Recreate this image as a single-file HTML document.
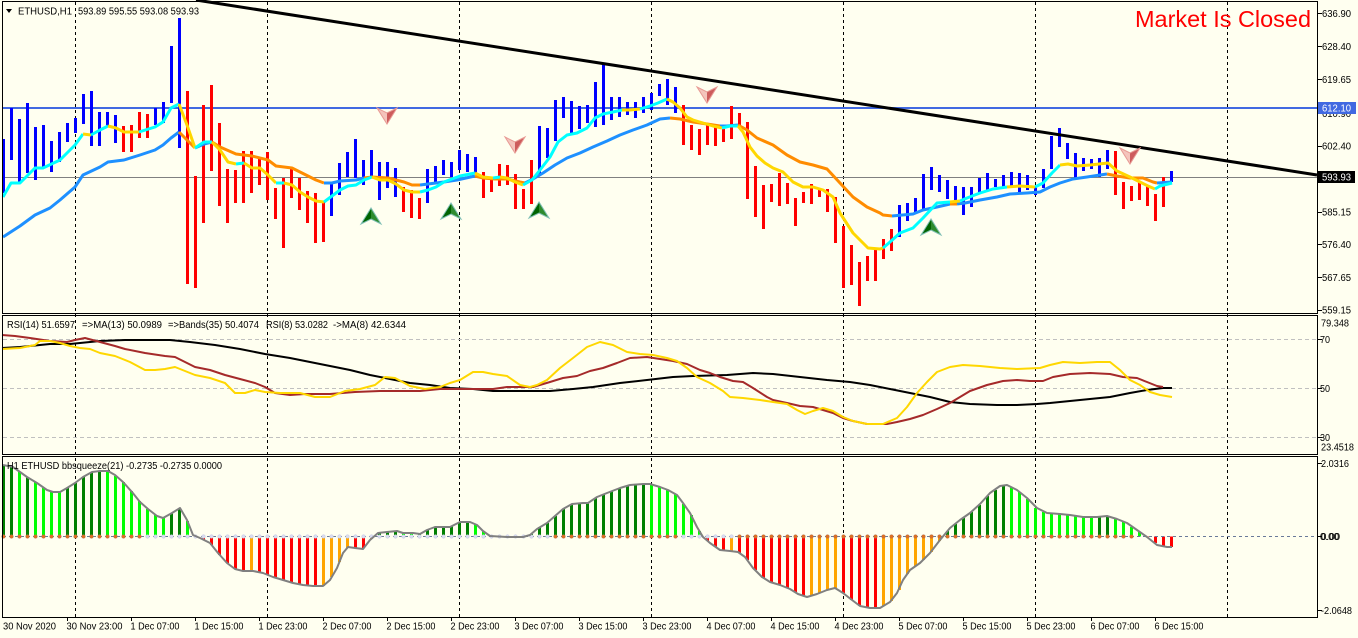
<!DOCTYPE html>
<html><head><meta charset="utf-8">
<style>
html,body{margin:0;padding:0;background:#FFFFF0;}
svg{display:block;}
text{font-family:"Liberation Sans","DejaVu Sans",sans-serif;font-size:10px;fill:#000;}
</style></head><body>
<svg width="1358" height="638" viewBox="0 0 1358 638" xmlns="http://www.w3.org/2000/svg">
<rect width="1358" height="638" fill="#FFFFF0"/>

<!-- vertical grid -->
<path d="M75.5 2V617M267.5 2V617M459.5 2V617M651.5 2V617M843.5 2V617M1035.5 2V617M1227.5 2V617" stroke="#000" stroke-width="1" stroke-dasharray="3 3" fill="none"/>
<!-- RSI levels -->
<path d="M3 339.5H1317M3 388.5H1317M3 437.5H1317" stroke="#C0C0C0" stroke-width="1" stroke-dasharray="4 3" fill="none"/>

<!-- histogram -->
<g stroke-width="3" fill="none">
<path stroke="#008000" d="M3.5 536.5V465M11.5 536.5V467M27.5 536.5V477M67.5 536.5V488M75.5 536.5V483M83.5 536.5V477M91.5 536.5V472M99.5 536.5V471M171.5 536.5V513M179.5 536.5V508M379.5 536.5V533M387.5 536.5V532M395.5 536.5V531M427.5 536.5V530M435.5 536.5V527M443.5 536.5V527M451.5 536.5V526M459.5 536.5V522M467.5 536.5V522M531.5 536.5V534M539.5 536.5V527M547.5 536.5V523M555.5 536.5V516M563.5 536.5V509M571.5 536.5V504M579.5 536.5V503M587.5 536.5V503M595.5 536.5V498M603.5 536.5V494M611.5 536.5V491M619.5 536.5V488M627.5 536.5V486M635.5 536.5V485M643.5 536.5V484M947.5 536.5V531M955.5 536.5V524M963.5 536.5V518M971.5 536.5V512M979.5 536.5V505M987.5 536.5V496M995.5 536.5V490M1003.5 536.5V486M1099.5 536.5V517M1107.5 536.5V516"/>
<path stroke="#00FF00" d="M19.5 536.5V472M35.5 536.5V482M43.5 536.5V488M51.5 536.5V492M59.5 536.5V492M107.5 536.5V471M115.5 536.5V476M123.5 536.5V482M131.5 536.5V491M139.5 536.5V501M147.5 536.5V509M155.5 536.5V515M163.5 536.5V518M187.5 536.5V521M403.5 536.5V533M411.5 536.5V533M419.5 536.5V534M475.5 536.5V524M483.5 536.5V531M491.5 536.5V536M651.5 536.5V485M659.5 536.5V487M667.5 536.5V490M675.5 536.5V494M683.5 536.5V504M691.5 536.5V515M699.5 536.5V531M1011.5 536.5V487M1019.5 536.5V492M1027.5 536.5V499M1035.5 536.5V508M1043.5 536.5V512M1051.5 536.5V513M1059.5 536.5V514M1067.5 536.5V515M1075.5 536.5V516M1083.5 536.5V517M1091.5 536.5V517M1115.5 536.5V519M1123.5 536.5V522M1131.5 536.5V527M1139.5 536.5V532"/>
<path stroke="#FF0000" d="M203.5 536.5V540M211.5 536.5V545M219.5 536.5V555M227.5 536.5V563M235.5 536.5V569M243.5 536.5V571M259.5 536.5V572M267.5 536.5V575M275.5 536.5V578M283.5 536.5V580M291.5 536.5V583M299.5 536.5V584M307.5 536.5V586M315.5 536.5V586M355.5 536.5V548M363.5 536.5V548M499.5 536.5V537M507.5 536.5V537M515.5 536.5V537M707.5 536.5V541M715.5 536.5V547M723.5 536.5V550M739.5 536.5V553M747.5 536.5V560M755.5 536.5V570M763.5 536.5V578M771.5 536.5V583M779.5 536.5V585M787.5 536.5V588M795.5 536.5V592M803.5 536.5V596M843.5 536.5V593M851.5 536.5V600M859.5 536.5V606M867.5 536.5V607M875.5 536.5V608M1147.5 536.5V537M1155.5 536.5V543M1163.5 536.5V546M1171.5 536.5V547"/>
<path stroke="#FFA500" d="M251.5 536.5V571M323.5 536.5V586M331.5 536.5V577M339.5 536.5V562M347.5 536.5V548M371.5 536.5V539M523.5 536.5V537M731.5 536.5V551M811.5 536.5V596M819.5 536.5V593M827.5 536.5V590M835.5 536.5V588M883.5 536.5V606M891.5 536.5V601M899.5 536.5V590M907.5 536.5V574M915.5 536.5V566M923.5 536.5V560M931.5 536.5V552M939.5 536.5V541"/>
</g>
<!-- zero line -->
<path d="M3 536.5H1317" stroke="#6A7A9A" stroke-width="1" stroke-dasharray="3 3" fill="none"/>
<!-- squeeze dots -->
<path fill="#E07020" stroke="#B07050" stroke-width="0.5" d="M1.7 536.5
a1.8 1.8 0 1 0 3.6 0a1.8 1.8 0 1 0-3.6 0m8 0a1.8 1.8 0 1 0 3.6 0a1.8 1.8 0 1 0-3.6 0m8 0a1.8 1.8 0 1 0 3.6 0a1.8 1.8 0 1 0-3.6 0m8 0a1.8 1.8 0 1 0 3.6 0a1.8 1.8 0 1 0-3.6 0m8 0a1.8 1.8 0 1 0 3.6 0a1.8 1.8 0 1 0-3.6 0m8 0
a1.8 1.8 0 1 0 3.6 0a1.8 1.8 0 1 0-3.6 0m8 0a1.8 1.8 0 1 0 3.6 0a1.8 1.8 0 1 0-3.6 0m8 0a1.8 1.8 0 1 0 3.6 0a1.8 1.8 0 1 0-3.6 0m8 0a1.8 1.8 0 1 0 3.6 0a1.8 1.8 0 1 0-3.6 0m8 0a1.8 1.8 0 1 0 3.6 0a1.8 1.8 0 1 0-3.6 0m8 0
a1.8 1.8 0 1 0 3.6 0a1.8 1.8 0 1 0-3.6 0m8 0a1.8 1.8 0 1 0 3.6 0a1.8 1.8 0 1 0-3.6 0m8 0a1.8 1.8 0 1 0 3.6 0a1.8 1.8 0 1 0-3.6 0m8 0a1.8 1.8 0 1 0 3.6 0a1.8 1.8 0 1 0-3.6 0m8 0a1.8 1.8 0 1 0 3.6 0a1.8 1.8 0 1 0-3.6 0m8 0
a1.8 1.8 0 1 0 3.6 0a1.8 1.8 0 1 0-3.6 0m8 0a1.8 1.8 0 1 0 3.6 0a1.8 1.8 0 1 0-3.6 0m8 0a1.8 1.8 0 1 0 3.6 0a1.8 1.8 0 1 0-3.6 0m8 0
M553.7 536.5
a1.8 1.8 0 1 0 3.6 0a1.8 1.8 0 1 0-3.6 0m8 0a1.8 1.8 0 1 0 3.6 0a1.8 1.8 0 1 0-3.6 0m8 0a1.8 1.8 0 1 0 3.6 0a1.8 1.8 0 1 0-3.6 0m8 0a1.8 1.8 0 1 0 3.6 0a1.8 1.8 0 1 0-3.6 0m8 0a1.8 1.8 0 1 0 3.6 0a1.8 1.8 0 1 0-3.6 0m8 0
a1.8 1.8 0 1 0 3.6 0a1.8 1.8 0 1 0-3.6 0m8 0a1.8 1.8 0 1 0 3.6 0a1.8 1.8 0 1 0-3.6 0m8 0a1.8 1.8 0 1 0 3.6 0a1.8 1.8 0 1 0-3.6 0m8 0a1.8 1.8 0 1 0 3.6 0a1.8 1.8 0 1 0-3.6 0m8 0a1.8 1.8 0 1 0 3.6 0a1.8 1.8 0 1 0-3.6 0m8 0
a1.8 1.8 0 1 0 3.6 0a1.8 1.8 0 1 0-3.6 0m8 0a1.8 1.8 0 1 0 3.6 0a1.8 1.8 0 1 0-3.6 0m8 0a1.8 1.8 0 1 0 3.6 0a1.8 1.8 0 1 0-3.6 0m8 0a1.8 1.8 0 1 0 3.6 0a1.8 1.8 0 1 0-3.6 0m8 0a1.8 1.8 0 1 0 3.6 0a1.8 1.8 0 1 0-3.6 0m8 0
a1.8 1.8 0 1 0 3.6 0a1.8 1.8 0 1 0-3.6 0m8 0
M737.7 536.5
a1.8 1.8 0 1 0 3.6 0a1.8 1.8 0 1 0-3.6 0m8 0a1.8 1.8 0 1 0 3.6 0a1.8 1.8 0 1 0-3.6 0m8 0a1.8 1.8 0 1 0 3.6 0a1.8 1.8 0 1 0-3.6 0m8 0a1.8 1.8 0 1 0 3.6 0a1.8 1.8 0 1 0-3.6 0m8 0a1.8 1.8 0 1 0 3.6 0a1.8 1.8 0 1 0-3.6 0m8 0
a1.8 1.8 0 1 0 3.6 0a1.8 1.8 0 1 0-3.6 0m8 0a1.8 1.8 0 1 0 3.6 0a1.8 1.8 0 1 0-3.6 0m8 0a1.8 1.8 0 1 0 3.6 0a1.8 1.8 0 1 0-3.6 0m8 0a1.8 1.8 0 1 0 3.6 0a1.8 1.8 0 1 0-3.6 0m8 0a1.8 1.8 0 1 0 3.6 0a1.8 1.8 0 1 0-3.6 0m8 0
a1.8 1.8 0 1 0 3.6 0a1.8 1.8 0 1 0-3.6 0m8 0a1.8 1.8 0 1 0 3.6 0a1.8 1.8 0 1 0-3.6 0m8 0a1.8 1.8 0 1 0 3.6 0a1.8 1.8 0 1 0-3.6 0m8 0a1.8 1.8 0 1 0 3.6 0a1.8 1.8 0 1 0-3.6 0m8 0a1.8 1.8 0 1 0 3.6 0a1.8 1.8 0 1 0-3.6 0m8 0
a1.8 1.8 0 1 0 3.6 0a1.8 1.8 0 1 0-3.6 0m8 0a1.8 1.8 0 1 0 3.6 0a1.8 1.8 0 1 0-3.6 0m8 0a1.8 1.8 0 1 0 3.6 0a1.8 1.8 0 1 0-3.6 0m8 0a1.8 1.8 0 1 0 3.6 0a1.8 1.8 0 1 0-3.6 0m8 0a1.8 1.8 0 1 0 3.6 0a1.8 1.8 0 1 0-3.6 0m8 0
a1.8 1.8 0 1 0 3.6 0a1.8 1.8 0 1 0-3.6 0m8 0a1.8 1.8 0 1 0 3.6 0a1.8 1.8 0 1 0-3.6 0m8 0a1.8 1.8 0 1 0 3.6 0a1.8 1.8 0 1 0-3.6 0m8 0a1.8 1.8 0 1 0 3.6 0a1.8 1.8 0 1 0-3.6 0m8 0a1.8 1.8 0 1 0 3.6 0a1.8 1.8 0 1 0-3.6 0m8 0
a1.8 1.8 0 1 0 3.6 0a1.8 1.8 0 1 0-3.6 0m8 0a1.8 1.8 0 1 0 3.6 0a1.8 1.8 0 1 0-3.6 0m8 0a1.8 1.8 0 1 0 3.6 0a1.8 1.8 0 1 0-3.6 0m8 0a1.8 1.8 0 1 0 3.6 0a1.8 1.8 0 1 0-3.6 0m8 0a1.8 1.8 0 1 0 3.6 0a1.8 1.8 0 1 0-3.6 0m8 0
a1.8 1.8 0 1 0 3.6 0a1.8 1.8 0 1 0-3.6 0m8 0a1.8 1.8 0 1 0 3.6 0a1.8 1.8 0 1 0-3.6 0m8 0a1.8 1.8 0 1 0 3.6 0a1.8 1.8 0 1 0-3.6 0m8 0a1.8 1.8 0 1 0 3.6 0a1.8 1.8 0 1 0-3.6 0m8 0a1.8 1.8 0 1 0 3.6 0a1.8 1.8 0 1 0-3.6 0m8 0
a1.8 1.8 0 1 0 3.6 0a1.8 1.8 0 1 0-3.6 0m8 0a1.8 1.8 0 1 0 3.6 0a1.8 1.8 0 1 0-3.6 0m8 0a1.8 1.8 0 1 0 3.6 0a1.8 1.8 0 1 0-3.6 0m8 0a1.8 1.8 0 1 0 3.6 0a1.8 1.8 0 1 0-3.6 0m8 0a1.8 1.8 0 1 0 3.6 0a1.8 1.8 0 1 0-3.6 0m8 0
a1.8 1.8 0 1 0 3.6 0a1.8 1.8 0 1 0-3.6 0m8 0a1.8 1.8 0 1 0 3.6 0a1.8 1.8 0 1 0-3.6 0m8 0a1.8 1.8 0 1 0 3.6 0a1.8 1.8 0 1 0-3.6 0m8 0a1.8 1.8 0 1 0 3.6 0a1.8 1.8 0 1 0-3.6 0m8 0a1.8 1.8 0 1 0 3.6 0a1.8 1.8 0 1 0-3.6 0m8 0
a1.8 1.8 0 1 0 3.6 0a1.8 1.8 0 1 0-3.6 0m8 0a1.8 1.8 0 1 0 3.6 0a1.8 1.8 0 1 0-3.6 0m8 0a1.8 1.8 0 1 0 3.6 0a1.8 1.8 0 1 0-3.6 0m8 0a1.8 1.8 0 1 0 3.6 0a1.8 1.8 0 1 0-3.6 0m8 0a1.8 1.8 0 1 0 3.6 0a1.8 1.8 0 1 0-3.6 0m8 0"/>
<path fill="#DADDF0" stroke="#C4C8E0" stroke-width="0.5" d="M145.7 536.5
a1.8 1.8 0 1 0 3.6 0a1.8 1.8 0 1 0-3.6 0m8 0a1.8 1.8 0 1 0 3.6 0a1.8 1.8 0 1 0-3.6 0m8 0a1.8 1.8 0 1 0 3.6 0a1.8 1.8 0 1 0-3.6 0m8 0a1.8 1.8 0 1 0 3.6 0a1.8 1.8 0 1 0-3.6 0m8 0a1.8 1.8 0 1 0 3.6 0a1.8 1.8 0 1 0-3.6 0m8 0
a1.8 1.8 0 1 0 3.6 0a1.8 1.8 0 1 0-3.6 0m8 0a1.8 1.8 0 1 0 3.6 0a1.8 1.8 0 1 0-3.6 0m8 0a1.8 1.8 0 1 0 3.6 0a1.8 1.8 0 1 0-3.6 0m8 0a1.8 1.8 0 1 0 3.6 0a1.8 1.8 0 1 0-3.6 0m8 0a1.8 1.8 0 1 0 3.6 0a1.8 1.8 0 1 0-3.6 0m8 0
a1.8 1.8 0 1 0 3.6 0a1.8 1.8 0 1 0-3.6 0m8 0a1.8 1.8 0 1 0 3.6 0a1.8 1.8 0 1 0-3.6 0m8 0a1.8 1.8 0 1 0 3.6 0a1.8 1.8 0 1 0-3.6 0m8 0a1.8 1.8 0 1 0 3.6 0a1.8 1.8 0 1 0-3.6 0m8 0a1.8 1.8 0 1 0 3.6 0a1.8 1.8 0 1 0-3.6 0m8 0
a1.8 1.8 0 1 0 3.6 0a1.8 1.8 0 1 0-3.6 0m8 0a1.8 1.8 0 1 0 3.6 0a1.8 1.8 0 1 0-3.6 0m8 0a1.8 1.8 0 1 0 3.6 0a1.8 1.8 0 1 0-3.6 0m8 0a1.8 1.8 0 1 0 3.6 0a1.8 1.8 0 1 0-3.6 0m8 0a1.8 1.8 0 1 0 3.6 0a1.8 1.8 0 1 0-3.6 0m8 0
a1.8 1.8 0 1 0 3.6 0a1.8 1.8 0 1 0-3.6 0m8 0a1.8 1.8 0 1 0 3.6 0a1.8 1.8 0 1 0-3.6 0m8 0a1.8 1.8 0 1 0 3.6 0a1.8 1.8 0 1 0-3.6 0m8 0a1.8 1.8 0 1 0 3.6 0a1.8 1.8 0 1 0-3.6 0m8 0a1.8 1.8 0 1 0 3.6 0a1.8 1.8 0 1 0-3.6 0m8 0
a1.8 1.8 0 1 0 3.6 0a1.8 1.8 0 1 0-3.6 0m8 0a1.8 1.8 0 1 0 3.6 0a1.8 1.8 0 1 0-3.6 0m8 0a1.8 1.8 0 1 0 3.6 0a1.8 1.8 0 1 0-3.6 0m8 0a1.8 1.8 0 1 0 3.6 0a1.8 1.8 0 1 0-3.6 0m8 0a1.8 1.8 0 1 0 3.6 0a1.8 1.8 0 1 0-3.6 0m8 0
a1.8 1.8 0 1 0 3.6 0a1.8 1.8 0 1 0-3.6 0m8 0a1.8 1.8 0 1 0 3.6 0a1.8 1.8 0 1 0-3.6 0m8 0a1.8 1.8 0 1 0 3.6 0a1.8 1.8 0 1 0-3.6 0m8 0a1.8 1.8 0 1 0 3.6 0a1.8 1.8 0 1 0-3.6 0m8 0a1.8 1.8 0 1 0 3.6 0a1.8 1.8 0 1 0-3.6 0m8 0
a1.8 1.8 0 1 0 3.6 0a1.8 1.8 0 1 0-3.6 0m8 0a1.8 1.8 0 1 0 3.6 0a1.8 1.8 0 1 0-3.6 0m8 0a1.8 1.8 0 1 0 3.6 0a1.8 1.8 0 1 0-3.6 0m8 0a1.8 1.8 0 1 0 3.6 0a1.8 1.8 0 1 0-3.6 0m8 0a1.8 1.8 0 1 0 3.6 0a1.8 1.8 0 1 0-3.6 0m8 0
a1.8 1.8 0 1 0 3.6 0a1.8 1.8 0 1 0-3.6 0m8 0a1.8 1.8 0 1 0 3.6 0a1.8 1.8 0 1 0-3.6 0m8 0a1.8 1.8 0 1 0 3.6 0a1.8 1.8 0 1 0-3.6 0m8 0a1.8 1.8 0 1 0 3.6 0a1.8 1.8 0 1 0-3.6 0m8 0a1.8 1.8 0 1 0 3.6 0a1.8 1.8 0 1 0-3.6 0m8 0
a1.8 1.8 0 1 0 3.6 0a1.8 1.8 0 1 0-3.6 0m8 0a1.8 1.8 0 1 0 3.6 0a1.8 1.8 0 1 0-3.6 0m8 0a1.8 1.8 0 1 0 3.6 0a1.8 1.8 0 1 0-3.6 0m8 0a1.8 1.8 0 1 0 3.6 0a1.8 1.8 0 1 0-3.6 0m8 0a1.8 1.8 0 1 0 3.6 0a1.8 1.8 0 1 0-3.6 0m8 0
a1.8 1.8 0 1 0 3.6 0a1.8 1.8 0 1 0-3.6 0m8 0
M681.7 536.5
a1.8 1.8 0 1 0 3.6 0a1.8 1.8 0 1 0-3.6 0m8 0a1.8 1.8 0 1 0 3.6 0a1.8 1.8 0 1 0-3.6 0m8 0a1.8 1.8 0 1 0 3.6 0a1.8 1.8 0 1 0-3.6 0m8 0a1.8 1.8 0 1 0 3.6 0a1.8 1.8 0 1 0-3.6 0m8 0a1.8 1.8 0 1 0 3.6 0a1.8 1.8 0 1 0-3.6 0m8 0
a1.8 1.8 0 1 0 3.6 0a1.8 1.8 0 1 0-3.6 0m8 0a1.8 1.8 0 1 0 3.6 0a1.8 1.8 0 1 0-3.6 0m8 0"/>
<polyline fill="none" stroke="#808080" stroke-width="2" stroke-linejoin="round" points="3,465 13,467 20,472 27,477 37,483 47,490 53,492 60,492 67,488 75,483 83,477 92,472 100,471 108,471 115,475 123,482 132,492 140,502 148,509 157,516 163,518 172,513 180,508 187,520 193,535 200,538 210,543 218,553 227,563 235,569 243,571 253,571 263,573 273,577 283,580 293,583 303,585 313,586 323,586 330,580 337,568 343,553 348,547 355,548 363,549 370,540 378,533 387,532 397,531 403,533 413,533 420,534 427,530 435,527 443,527 450,527 460,522 470,522 477,525 483,531 490,536 507,537 523,537 530,535 537,529 547,523 555,516 563,509 572,504 583,503 588,503 597,497 607,493 620,488 630,485 643,484 650,484 660,487 668,490 677,495 683,503 690,513 697,527 703,537 710,543 720,550 730,551 738,552 745,557 753,568 762,577 770,582 780,585 790,589 798,594 807,597 817,594 827,590 835,588 843,593 852,600 860,606 870,608 880,608 890,602 897,593 903,580 910,570 920,563 930,553 940,540 950,528 960,520 970,513 980,504 990,493 1000,486 1007,485 1017,490 1027,498 1037,508 1047,513 1060,514 1070,515 1083,517 1097,517 1107,516 1117,519 1127,523 1137,530 1147,537 1157,545 1167,547 1172,547"/>

<!-- RSI lines -->
<g fill="none" stroke-width="2" stroke-linejoin="round">
<polyline stroke="#000" points="2,348 20,347 50,344 70,344 100,341 125,340 170,340 190,342 215,345 240,349 265,354 290,358 310,362 330,366 350,370 370,375 390,379 410,383 430,385 450,388 473,389 493,391 520,391 550,391 573,389 593,387 620,383 647,380 673,377 693,376 727,375 753,373 773,374 800,377 827,380 850,382 870,385 890,389 910,393 930,397 950,402 970,404 997,405 1017,405 1037,404 1050,403 1070,401 1090,399 1110,397 1130,393 1147,390 1163,388 1172,388"/>
<polyline stroke="#A52A2A" points="2,335 15,336 30,338 50,341 67,342 75,340 85,338 100,342 115,346 125,349 145,353 165,356 175,357 185,362 195,367 210,370 225,375 240,379 255,383 265,387 275,393 290,395 305,394 330,394 355,392 380,391 420,391 440,389 457,389 473,389 493,389 507,387 523,387 533,387 550,382 563,378 577,376 590,371 603,368 617,363 630,358 647,357 660,359 673,361 687,364 700,370 710,373 720,377 733,381 743,382 753,388 767,397 773,400 787,403 800,406 813,407 823,410 833,413 843,418 853,421 867,424 887,424 897,422 910,419 923,415 937,409 950,403 960,397 970,391 987,385 1003,381 1017,380 1030,381 1043,381 1053,377 1070,374 1090,373 1110,374 1123,377 1137,378 1147,382 1157,386 1163,387"/>
<polyline stroke="#FFD700" points="2,349 20,348 35,345 40,341 50,341 60,343 70,346 80,348 90,349 100,353 115,356 130,362 145,370 155,370 165,369 175,367 185,371 195,375 210,378 225,383 235,393 245,393 255,390 265,392 280,393 300,393 315,397 330,397 345,391 360,389 375,385 385,377 395,378 410,386 425,389 440,387 450,383 460,380 473,372 483,372 493,374 507,376 520,385 530,387 537,385 547,380 560,368 573,358 587,347 600,342 613,345 627,352 640,354 653,355 667,358 677,361 687,368 697,377 710,383 723,391 730,397 743,398 760,400 773,402 787,404 797,410 805,414 813,411 823,408 833,411 843,417 853,421 867,424 883,424 897,418 907,407 917,393 927,382 937,372 950,367 963,365 980,366 1000,368 1017,369 1040,368 1050,365 1063,362 1080,363 1097,362 1110,362 1120,370 1130,380 1140,385 1150,392 1160,395 1172,397"/>
</g>

<!-- horizontal lines main -->
<path d="M3 177.5H1317" stroke="#808080" stroke-width="1"/>
<path d="M3 108H1317" stroke="#4169E1" stroke-width="2"/>

<!-- price bars -->
<g stroke-width="3" fill="none">
<path stroke="#0000FF" d="M3.5 139V193M11.5 108V160M19.5 119V182M27.5 103V173M35.5 127V180M43.5 125V167M51.5 141V172M59.5 132V162M67.5 123V142M75.5 118V133M83.5 94V124M91.5 91V146M99.5 112V146M107.5 112V127M115.5 115V143M155.5 108V125M163.5 102V123M171.5 46V103M179.5 18V148M331.5 183V216M339.5 163V195M347.5 152V177M355.5 139V178M363.5 160V185M371.5 150V176M379.5 162V200M387.5 162V188M395.5 168V197M427.5 169V203M435.5 166V182M443.5 160V175M451.5 162V177M459.5 150V170M467.5 154V172M475.5 157V173M539.5 126V174M547.5 128V158M555.5 100V141M563.5 97V118M571.5 101V133M579.5 106V129M587.5 105V123M595.5 82V127M603.5 65V125M611.5 97V120M619.5 97V117M627.5 102V115M635.5 102V118M643.5 97V113M651.5 93V110M659.5 84V96M667.5 79V105M675.5 87V113M899.5 205V237M907.5 203V221M915.5 198V214M923.5 174V210M931.5 167V190M939.5 175V192M947.5 180V199M955.5 186V200M963.5 187V215M971.5 187V207M979.5 178V193M987.5 173V191M995.5 179V187M1003.5 175V187M1011.5 172V187M1019.5 173V192M1027.5 175V190M1035.5 187V195M1043.5 169V188M1051.5 136V169M1059.5 128V147M1067.5 143V159M1075.5 153V178M1083.5 158V171M1091.5 159V169M1099.5 158V177M1107.5 150V169M1171.5 171V182"/>
<path stroke="#FF0000" d="M123.5 126V152M131.5 125V152M139.5 112V138M147.5 114V138M187.5 91V284M195.5 176V288M203.5 105V223M211.5 85V171M219.5 123V206M227.5 169V223M235.5 170V203M243.5 151V203M251.5 151V193M259.5 157V185M267.5 152V200M275.5 188V219M283.5 178V248M291.5 167V198M299.5 178V210M307.5 191V223M315.5 193V243M323.5 202V242M403.5 187V212M411.5 190V218M419.5 198V219M483.5 172V198M491.5 180V192M499.5 164V186M507.5 165V185M515.5 174V209M523.5 189V209M531.5 160V204M683.5 105V145M691.5 125V150M699.5 129V155M707.5 124V145M715.5 125V146M723.5 129V142M731.5 106V139M739.5 113V127M747.5 122V199M755.5 166V217M763.5 185V229M771.5 184V202M779.5 173V206M787.5 183V204M795.5 198V226M803.5 192V203M811.5 184V204M819.5 188V197M827.5 189V212M835.5 197V243M843.5 226V288M851.5 245V285M859.5 262V306M867.5 256V281M875.5 250V281M883.5 239V259M891.5 229V251M1115.5 151V195M1123.5 182V209M1131.5 186V201M1139.5 182V200M1147.5 186V206M1155.5 194V221M1163.5 177V207"/>
</g>

<!-- slow MA -->
<g fill="none" stroke-width="3" stroke-linejoin="round">
<polyline stroke="#1E90FF" points="3,237 20,226 35,215 50,208 60,200 75,187 83,175 100,167 108,162 124,160 140,155 155,150 163,145 171,138 179,132"/>
<polyline stroke="#FF8C00" points="179,132 187,140 195,148"/>
<polyline stroke="#1E90FF" points="195,148 204,144 212,142"/>
<polyline stroke="#FF8C00" points="212,142 220,147 236,154 252,156 268,160 276,166 292,168 300,172 316,180 324,183"/>
<polyline stroke="#1E90FF" points="324,183 332,183 340,181 356,180 364,178"/>
<polyline stroke="#FF8C00" points="364,178 372,177 388,178 404,182 412,185 420,185"/>
<polyline stroke="#1E90FF" points="420,185 428,184 444,182 457,180 475,176"/>
<polyline stroke="#FF8C00" points="475,176 483,178 495,179 507,179 520,182 525,183"/>
<polyline stroke="#1E90FF" points="525,183 533,179 543,173 555,165 567,158 580,153 593,147 607,141 620,135 633,130 647,125 660,119 670,118"/>
<polyline stroke="#FF8C00" points="670,118 680,119 693,122 707,124 720,126"/>
<polyline stroke="#1E90FF" points="720,126 727,126 738,125"/>
<polyline stroke="#FF8C00" points="738,125 747,130 757,138 773,145 787,155 800,162 813,165 827,169 840,183 853,197 867,207 880,213 883,215 892,216"/>
<polyline stroke="#1E90FF" points="892,216 913,214 923,210 937,207 950,204"/>
<polyline stroke="#FF8C00" points="950,204 957,204"/>
<polyline stroke="#1E90FF" points="957,204 965,203 980,200 997,197 1010,194 1027,193 1040,192 1050,187 1060,183 1073,179 1087,177 1100,175 1107,174"/>
<polyline stroke="#FF8C00" points="1107,174 1117,176 1130,178 1143,178 1153,182 1157,183"/>
<polyline stroke="#1E90FF" points="1157,183 1172,182"/>
</g>
<!-- fast MA -->
<g fill="none" stroke-width="3" stroke-linejoin="round">
<polyline stroke="#00FFFF" points="3,197 11,183 20,183 35,168 43,168 60,160 75,145 83,134"/>
<polyline stroke="#FFD700" points="83,134 91,135"/>
<polyline stroke="#00FFFF" points="91,135 100,130 108,126"/>
<polyline stroke="#FFD700" points="108,126 116,128 124,132 139,132"/>
<polyline stroke="#00FFFF" points="139,132 155,127 163,122 171,108 179,104"/>
<polyline stroke="#FFD700" points="179,104 187,125 195,148"/>
<polyline stroke="#00FFFF" points="195,148 204,142 212,142"/>
<polyline stroke="#FFD700" points="212,142 220,150 228,162 236,164"/>
<polyline stroke="#00FFFF" points="236,164 244,163"/>
<polyline stroke="#FFD700" points="244,163 252,168 260,168 268,175 276,183"/>
<polyline stroke="#00FFFF" points="276,183 284,183"/>
<polyline stroke="#FFD700" points="284,183 292,185 300,192 308,197 316,201 324,202"/>
<polyline stroke="#00FFFF" points="324,202 332,196 340,190 348,186 356,185 364,180 372,177"/>
<polyline stroke="#FFD700" points="372,177 380,180 388,180 396,184 404,190 412,192 420,192"/>
<polyline stroke="#00FFFF" points="420,192 428,190 436,187 444,182 460,176 475,173"/>
<polyline stroke="#FFD700" points="475,173 483,177 493,178"/>
<polyline stroke="#00FFFF" points="493,178 500,177"/>
<polyline stroke="#FFD700" points="500,177 507,178 515,182 523,185"/>
<polyline stroke="#00FFFF" points="523,185 532,180 540,170 550,157 558,142 567,135 577,133 587,128 595,118 603,114 613,112 622,110"/>
<polyline stroke="#FFD700" points="622,110 630,110 640,109"/>
<polyline stroke="#00FFFF" points="640,109 650,106 658,103 667,99"/>
<polyline stroke="#FFD700" points="667,99 673,102 680,108 687,117 693,120 703,123 713,126 722,128"/>
<polyline stroke="#00FFFF" points="722,128 730,126 738,126"/>
<polyline stroke="#FFD700" points="738,126 743,132 750,147 757,156 765,163 773,168 783,172 793,182 803,187 813,187 823,190 833,197 840,213 853,233 868,248 880,249 883,248"/>
<polyline stroke="#00FFFF" points="883,248 890,242 900,233 913,228 923,218 937,203 950,202"/>
<polyline stroke="#FFD700" points="950,202 960,201"/>
<polyline stroke="#00FFFF" points="960,201 967,198 980,193 993,189 1007,187"/>
<polyline stroke="#FFD700" points="1007,187 1020,186 1035,187"/>
<polyline stroke="#00FFFF" points="1035,187 1043,183 1052,173 1060,165"/>
<polyline stroke="#FFD700" points="1060,165 1068,164 1077,166 1090,165 1108,163 1117,171 1130,177 1140,182 1148,186 1155,189"/>
<polyline stroke="#00FFFF" points="1155,189 1160,186 1172,183"/>
</g>

<!-- trend line -->
<line x1="196" y1="0" x2="1317" y2="175" stroke="#000" stroke-width="3"/>

<!-- arrows up -->
<g stroke-width="1">
<polygon points="371,208 361,224 371,219" fill="#006400"/><polygon points="371,208 381,224 371,219" fill="#2E8B2E"/><polygon points="371,208 361,224 371,219 381,224" fill="none" stroke="#7FBFB5"/>
<polygon points="451,203 441,219 451,214" fill="#006400"/><polygon points="451,203 461,219 451,214" fill="#2E8B2E"/><polygon points="451,203 441,219 451,214 461,219" fill="none" stroke="#7FBFB5"/>
<polygon points="539,202 529,218 539,213" fill="#006400"/><polygon points="539,202 549,218 539,213" fill="#2E8B2E"/><polygon points="539,202 529,218 539,213 549,218" fill="none" stroke="#7FBFB5"/>
<polygon points="931,219 921,235 931,230" fill="#006400"/><polygon points="931,219 941,235 931,230" fill="#2E8B2E"/><polygon points="931,219 921,235 931,230 941,235" fill="none" stroke="#7FBFB5"/>
</g>
<!-- arrows down -->
<g stroke-width="1">
<polygon points="377,108 387,113 387,124" fill="#F4C4BC"/><polygon points="397,108 387,113 387,124" fill="#CD5C5C"/><polygon points="377,108 387,113 397,108 387,124" fill="none" stroke="#E89A94"/>
<polygon points="505,137 515,142 515,153" fill="#F4C4BC"/><polygon points="525,137 515,142 515,153" fill="#CD5C5C"/><polygon points="505,137 515,142 525,137 515,153" fill="none" stroke="#E89A94"/>
<polygon points="697,87 707,92 707,103" fill="#F4C4BC"/><polygon points="717,87 707,92 707,103" fill="#CD5C5C"/><polygon points="697,87 707,92 717,87 707,103" fill="none" stroke="#E89A94"/>
<polygon points="1120,148 1130,153 1130,164" fill="#F4C4BC"/><polygon points="1140,148 1130,153 1130,164" fill="#CD5C5C"/><polygon points="1120,148 1130,153 1140,148 1130,164" fill="none" stroke="#E89A94"/>
</g>

<!-- panel borders -->
<g fill="none" stroke="#000" stroke-width="1">
<rect x="2.5" y="1.5" width="1315" height="312"/>
<rect x="2.5" y="315.5" width="1315" height="139"/>
<rect x="2.5" y="456.5" width="1315" height="161"/>
</g>

<!-- right axis ticks -->
<path d="M1318 13.5h4M1318 46.5h4M1318 79.5h4M1318 113.5h4M1318 146.5h4M1318 212.5h4M1318 244.5h4M1318 277.5h4M1318 310.5h4M1318 339.5h4M1318 388.5h4M1318 437.5h4M1318 463.5h4M1318 536.5h4M1318 610.5h4" stroke="#000" stroke-width="1"/>

<!-- main axis labels -->
<text x="1322" y="17.2" textLength="29" lengthAdjust="spacingAndGlyphs">636.90</text>
<text x="1322" y="50.2" textLength="29" lengthAdjust="spacingAndGlyphs">628.40</text>
<text x="1322" y="83.2" textLength="29" lengthAdjust="spacingAndGlyphs">619.65</text>
<text x="1322" y="117" textLength="29" lengthAdjust="spacingAndGlyphs">610.90</text>
<text x="1322" y="149.6" textLength="29" lengthAdjust="spacingAndGlyphs">602.40</text>
<text x="1322" y="215.6" textLength="29" lengthAdjust="spacingAndGlyphs">585.15</text>
<text x="1322" y="248.2" textLength="29" lengthAdjust="spacingAndGlyphs">576.40</text>
<text x="1322" y="281.2" textLength="29" lengthAdjust="spacingAndGlyphs">567.65</text>
<text x="1322" y="313.6" textLength="29" lengthAdjust="spacingAndGlyphs">559.15</text>
<rect x="1318" y="102" width="38" height="12" fill="#4169E1"/>
<text x="1322" y="111.6" textLength="29" lengthAdjust="spacingAndGlyphs" style="fill:#fff">612.10</text>
<rect x="1318" y="171" width="37" height="12" fill="#000"/>
<text x="1322" y="180.6" textLength="29" lengthAdjust="spacingAndGlyphs" style="fill:#fff">593.93</text>

<!-- RSI axis labels -->
<text x="1321" y="326.4" textLength="28" lengthAdjust="spacingAndGlyphs">79.348</text>
<text x="1320" y="342.9" textLength="10" lengthAdjust="spacingAndGlyphs">70</text>
<text x="1320" y="391.9" textLength="10" lengthAdjust="spacingAndGlyphs">50</text>
<text x="1320" y="440.9" textLength="10" lengthAdjust="spacingAndGlyphs">30</text>
<text x="1321" y="450.6" textLength="33" lengthAdjust="spacingAndGlyphs">23.4518</text>
<!-- squeeze axis labels -->
<text x="1321" y="466.9" textLength="28" lengthAdjust="spacingAndGlyphs">2.0316</text>
<text x="1320" y="540.1" textLength="19" lengthAdjust="spacingAndGlyphs">0.00</text>
<text x="1321" y="540.1" textLength="19" lengthAdjust="spacingAndGlyphs">0.00</text>
<text x="1321" y="614.1" textLength="31" lengthAdjust="spacingAndGlyphs">-2.0648</text>

<!-- time ticks -->
<path d="M67.5 617v4M131.5 617v4M195.5 617v4M259.5 617v4M323.5 617v4M387.5 617v4M451.5 617v4M515.5 617v4M579.5 617v4M643.5 617v4M707.5 617v4M771.5 617v4M835.5 617v4M899.5 617v4M963.5 617v4M1027.5 617v4M1091.5 617v4M1155.5 617v4" stroke="#000" stroke-width="1"/>
<!-- time labels -->
<text x="3" y="629.6" textLength="53" lengthAdjust="spacingAndGlyphs">30 Nov 2020</text>
<text x="66.5" y="629.6" textLength="56" lengthAdjust="spacingAndGlyphs">30 Nov 23:00</text>
<text x="130.5" y="629.6" textLength="49" lengthAdjust="spacingAndGlyphs">1 Dec 07:00</text>
<text x="194.5" y="629.6" textLength="49" lengthAdjust="spacingAndGlyphs">1 Dec 15:00</text>
<text x="258.5" y="629.6" textLength="49" lengthAdjust="spacingAndGlyphs">1 Dec 23:00</text>
<text x="322.5" y="629.6" textLength="49" lengthAdjust="spacingAndGlyphs">2 Dec 07:00</text>
<text x="386.5" y="629.6" textLength="49" lengthAdjust="spacingAndGlyphs">2 Dec 15:00</text>
<text x="450.5" y="629.6" textLength="49" lengthAdjust="spacingAndGlyphs">2 Dec 23:00</text>
<text x="514.5" y="629.6" textLength="49" lengthAdjust="spacingAndGlyphs">3 Dec 07:00</text>
<text x="578.5" y="629.6" textLength="49" lengthAdjust="spacingAndGlyphs">3 Dec 15:00</text>
<text x="642.5" y="629.6" textLength="49" lengthAdjust="spacingAndGlyphs">3 Dec 23:00</text>
<text x="706.5" y="629.6" textLength="49" lengthAdjust="spacingAndGlyphs">4 Dec 07:00</text>
<text x="770.5" y="629.6" textLength="49" lengthAdjust="spacingAndGlyphs">4 Dec 15:00</text>
<text x="834.5" y="629.6" textLength="49" lengthAdjust="spacingAndGlyphs">4 Dec 23:00</text>
<text x="898.5" y="629.6" textLength="49" lengthAdjust="spacingAndGlyphs">5 Dec 07:00</text>
<text x="962.5" y="629.6" textLength="49" lengthAdjust="spacingAndGlyphs">5 Dec 15:00</text>
<text x="1026.5" y="629.6" textLength="49" lengthAdjust="spacingAndGlyphs">5 Dec 23:00</text>
<text x="1090.5" y="629.6" textLength="49" lengthAdjust="spacingAndGlyphs">6 Dec 07:00</text>
<text x="1154.5" y="629.6" textLength="49" lengthAdjust="spacingAndGlyphs">6 Dec 15:00</text>

<!-- headers -->
<polygon points="6,9 12,9 9,13" fill="#000"/>
<text x="18" y="14.6" textLength="54" lengthAdjust="spacingAndGlyphs">ETHUSD,H1</text>
<text x="78" y="14.6" textLength="121" lengthAdjust="spacingAndGlyphs">593.89 595.55 593.08 593.93</text>

<text x="7" y="327.9" textLength="68" lengthAdjust="spacingAndGlyphs">RSI(14) 51.6597</text>
<text x="82" y="327.9" textLength="80" lengthAdjust="spacingAndGlyphs">=&gt;MA(13) 50.0989</text>
<text x="168" y="327.9" textLength="91" lengthAdjust="spacingAndGlyphs">=&gt;Bands(35) 50.4074</text>
<text x="266" y="327.9" textLength="62" lengthAdjust="spacingAndGlyphs">RSI(8) 53.0282</text>
<text x="333" y="327.9" textLength="73" lengthAdjust="spacingAndGlyphs">-&gt;MA(8) 42.6344</text>

<text x="7" y="468.9" textLength="215" lengthAdjust="spacingAndGlyphs">H1 ETHUSD bbsqueeze(21) -0.2735 -0.2735 0.0000</text>

<text x="1135" y="27" textLength="176" lengthAdjust="spacingAndGlyphs" style="font-size:23px;fill:#FF0000">Market Is Closed</text>
</svg>
</body></html>
